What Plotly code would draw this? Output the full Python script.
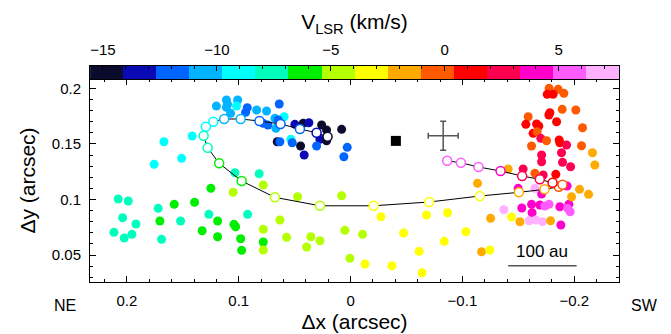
import plotly.graph_objects as go

# ---------------- colour scale (16 discrete velocity bands) ----------------
V_MIN, V_MAX = -15.57, 7.65
BAND_COLORS = ["#0b0b2e", "#0a0ab4", "#0064ff", "#00b4ff", "#00ffff", "#00ffbe",
               "#00ee00", "#b4ff00", "#ffff00", "#ffaa00", "#ff5a00", "#ff0000",
               "#ff0050", "#ff00cc", "#ff5cff", "#ffb0ff"]
band_v = [-14.84, -13.39, -11.94, -10.49, -9.04, -7.59, -6.14, -4.69,
          -3.23, -1.78, -0.33, 1.12, 2.57, 4.02, 5.47, 6.92]

n = len(BAND_COLORS)
CS = []
for i, c in enumerate(BAND_COLORS):
    CS.append([i / n, c])
    CS.append([(i + 1) / n, c])

# ---------------- observed maser spots ----------------
dx_obs = [0.111, 0.101, 0.120, 0.110, 0.102, 0.111, 0.0924, 0.084, 0.0939, 0.1073,
          0.0751, 0.0781, 0.0739, 0.0638, 0.0677, 0.0594, 0.0647, 0.0668, 0.0498, 0.0424,
          0.0373, 0.0259, 0.0215, 0.008, 0.0274, 0.0215, 0.0656, 0.0632, 0.0534, 0.0522,
          0.0447, 0.0304, 0.003, 0.0415, 0.006, 0.1669, 0.1416, 0.1756, 0.1511, 0.1034,
          0.0817, 0.1249, 0.105, 0.0781, 0.2078, 0.1988, 0.2038, 0.1919, 0.2116, 0.2024,
          0.1955, 0.172, 0.169, 0.1705, 0.1577, 0.152, 0.1395, 0.1267, 0.1189, 0.1327,
          0.1189, 0.1043, 0.1028, 0.0983, 0.0974, 0.0921, 0.0781, 0.0781, 0.0781, 0.0474,
          0.008, 0.0632, 0.0572, 0.0355, 0.0274, 0.0393, 0.0051, -0.0107, 0.0006, -0.0128,
          -0.0271, -0.0369, -0.0474, -0.0613, -0.064, -0.0679, -0.0867, -0.1031, -0.0837, -0.1135,
          -0.1252, -0.1171, -0.1245, -0.1439, -0.1371, -0.1514, -0.1531, -0.1498, -0.1618, -0.1623,
          -0.1692, -0.1737, -0.1775, -0.1597, -0.1657, -0.1716, -0.1788, -0.188, -0.1871, -0.1952,
          -0.194, -0.1963, -0.1976, -0.2047, -0.2128, -0.1936, -0.1722, -0.1835, -0.1648, -0.1708,
          -0.1648, -0.1775, -0.1856, -0.1758, -0.1811, -0.1907, -0.1588, -0.1567, -0.1782, -0.1773,
          -0.1892, -0.2014, -0.1842, -0.1663, -0.1683, -0.1632, -0.1668, -0.1701, -0.1752, -0.1865,
          -0.1871, -0.1931, -0.2074, -0.2065, -0.1618, -0.1708, -0.1886, -0.1708, -0.1895, -0.1967,
          -0.2163, -0.2184, -0.1409, -0.1543]
dy_obs = [0.1895, 0.1895, 0.184, 0.1856, 0.1841, 0.1829, 0.1825, 0.1805, 0.1784, 0.1775,
          0.1796, 0.1685, 0.167, 0.1859, 0.173, 0.1744, 0.1715, 0.164, 0.1676, 0.1685,
          0.169, 0.167, 0.1625, 0.1631, 0.1541, 0.1528, 0.1519, 0.1519, 0.1541, 0.151,
          0.1481, 0.1481, 0.1469, 0.140, 0.1384, 0.1519, 0.1571, 0.1316, 0.137, 0.124,
          0.1231, 0.110, 0.1064, 0.113, 0.1004, 0.0986, 0.0835, 0.0779, 0.0704, 0.0653,
          0.0686, 0.092, 0.0641, 0.0806, 0.0956, 0.0806, 0.0974, 0.0866, 0.0806, 0.0718,
          0.0664, 0.0776, 0.0754, 0.0646, 0.0542, 0.0866, 0.0731, 0.0617, 0.0545, 0.1024,
          0.1033, 0.0815, 0.0659, 0.0664, 0.0628, 0.0572, 0.0722, 0.0686, 0.047, 0.0419,
          0.0844, 0.0403, 0.0698, 0.0533, 0.034, 0.086, 0.088, 0.0709, 0.0623, 0.1145,
          0.083, 0.0529, 0.0545, 0.0842, 0.0907, 0.0799, 0.0923, 0.110, 0.0956, 0.088,
          0.095, 0.0941, 0.0956, 0.0808, 0.0815, 0.080, 0.0808, 0.077, 0.0934, 0.0956,
          0.092, 0.0889, 0.1024, 0.1091, 0.1046, 0.1121, 0.122, 0.1226, 0.1235, 0.1049,
          0.110, 0.200, 0.1991, 0.1946, 0.1946, 0.1955, 0.1744, 0.1676, 0.178, 0.176,
          0.1811, 0.1805, 0.1699, 0.1679, 0.1661, 0.1595, 0.1609, 0.155, 0.1528, 0.1535,
          0.151, 0.149, 0.1645, 0.1483, 0.1481, 0.140, 0.142, 0.1339, 0.1334, 0.1294,
          0.142, 0.131, 0.1274, 0.1274]
v_obs = [-10.5, -10.5, -10.5, -10.5, -9.0, -10.5, -11.9, -10.5, -11.9, -10.5,
         -10.5, -11.9, -11.9, -11.9, -10.5, -9.0, -11.9, -10.5, -13.4, -14.8,
         -13.4, -14.8, -14.8, -14.8, -13.4, -14.8, -14.8, -11.9, -9.0, -11.9,
         -14.8, -11.9, -11.9, -13.4, -11.9, -9.0, -9.0, -9.0, -9.0, -7.6,
         -7.6, -6.1, -4.7, -4.7, -7.6, -7.6, -7.6, -7.6, -7.6, -7.6,
         -7.6, -7.6, -7.6, -6.1, -6.1, -7.6, -6.1, -7.6, -6.1, -6.1,
         -6.1, -6.1, -6.1, -6.1, -6.1, -7.6, -4.7, -6.1, -4.7, -4.7,
         -4.7, -4.7, -4.7, -4.7, -4.7, -4.7, -4.7, -4.7, -4.7, -3.2,
         -3.2, -3.2, -3.2, -3.2, -3.2, -3.2, -3.2, -3.2, -3.2, -1.8,
         -1.8, -1.8, -3.2, -3.2, 6.9, -1.8, 4.0, 4.0, 4.0, 4.0,
         4.0, 5.5, 5.5, 6.9, 6.9, 6.9, -1.8, 4.0, 4.0, 4.0,
         5.5, 5.5, -1.8, -1.8, -1.8, 4.0, 2.6, 1.1, -0.3, 4.0,
         6.9, -0.3, -0.3, 1.1, 1.1, -0.3, -0.3, 1.1, 1.1, 1.1,
         -0.3, -0.3, 1.1, 1.1, 1.1, 1.1, -0.3, 2.6, -0.3, 1.1,
         1.1, 2.6, -0.3, -0.3, -0.3, 2.6, 2.6, 2.6, 2.6, 2.6,
         -1.8, -1.8, -1.8, 2.6]

# ---------------- model (open circles joined by a line) ----------------
dx_mod = [0.0206, 0.0304, 0.0453, 0.0626, 0.0815, 0.0983, 0.113, 0.1228, 0.1294, 0.1314,
          0.1278, 0.1175, 0.0974, 0.0677, 0.0274, -0.0206, -0.0703, -0.1156, -0.1505, -0.1734,
          -0.1862, -0.1895, -0.1806, -0.1692, -0.1534, -0.1341, -0.1144, -0.0986, -0.0864]
dy_mod = [0.1564, 0.160, 0.1634, 0.1679, 0.1706, 0.1724, 0.1724, 0.170, 0.1654, 0.1573,
          0.1465, 0.1325, 0.1166, 0.1019, 0.0943, 0.0943, 0.0977, 0.1031, 0.1064, 0.1091,
          0.1114, 0.1132, 0.115, 0.1181, 0.1211, 0.1256, 0.1292, 0.133, 0.1348]
v_mod = [-14.5, -13.2, -12.3, -11.7, -11.3, -10.7, -10.1, -9.5, -9.0, -8.2,
         -7.5, -6.6, -5.8, -5.0, -4.2, -3.6, -3.0, -2.6, -2.0, -1.4,
         -0.8, -0.4, 0.8, 2.0, 2.9, 3.8, 4.9, 5.6, 6.1]

# ---------------- other markers ----------------
star_x, star_y = [-0.0405], [0.1527]
err_x, err_y = [-0.0828], [0.1573]
err_dx, err_dy = [0.0134], [0.0131]
bar_x, bar_y = [-0.1409, -0.2021], [0.0403, 0.0403]
bar_label = "100 au"
bar_label_x, bar_label_y = -0.1715, 0.0530

FONT = "Liberation Sans"

fig = go.Figure()

fig.add_trace(go.Scatter(
    x=dx_obs, y=dy_obs, mode="markers",
    marker=dict(size=9, color=v_obs, colorscale=CS, cmin=V_MIN, cmax=V_MAX,
                showscale=False, line=dict(width=0)),
    showlegend=False, hoverinfo="skip"))

fig.add_trace(go.Scatter(
    x=dx_mod, y=dy_mod, mode="lines+markers",
    line=dict(color="black", width=1),
    marker=dict(size=9, color="white",
                line=dict(color=v_mod, colorscale=CS, cmin=V_MIN, cmax=V_MAX, width=1.5)),
    showlegend=False, hoverinfo="skip"))

fig.add_trace(go.Scatter(
    x=star_x, y=star_y, mode="markers",
    marker=dict(symbol="square", size=10, color="black"),
    showlegend=False, hoverinfo="skip"))

fig.add_trace(go.Scatter(
    x=err_x, y=err_y, mode="markers",
    marker=dict(size=1, color="rgba(0,0,0,0)"),
    error_x=dict(type="data", array=err_dx, color="#555555", thickness=1.5, width=3),
    error_y=dict(type="data", array=err_dy, color="#555555", thickness=1.5, width=3),
    showlegend=False, hoverinfo="skip"))

fig.add_trace(go.Scatter(
    x=bar_x, y=bar_y, mode="lines",
    line=dict(color="#555555", width=1.5),
    showlegend=False, hoverinfo="skip"))

# colour bar drawn as a heatmap strip on its own axes
fig.add_trace(go.Heatmap(
    x=band_v, y=[0.5], z=[band_v], colorscale=CS, zmin=V_MIN, zmax=V_MAX,
    showscale=False, xaxis="x2", yaxis="y2", hoverinfo="skip"))

fig.add_annotation(x=bar_label_x, y=bar_label_y, text=bar_label, showarrow=False,
                   xanchor="center", yanchor="middle",
                   font=dict(family=FONT, size=17, color="black"))
fig.add_annotation(x=-0.048, y=-0.111, xref="paper", yref="paper", text="NE",
                   showarrow=False, xanchor="center", yanchor="middle",
                   font=dict(family=FONT, size=16, color="black"))
fig.add_annotation(x=1.049, y=-0.111, xref="paper", yref="paper", text="SW",
                   showarrow=False, xanchor="center", yanchor="middle",
                   font=dict(family=FONT, size=16, color="black"))

MAIN_TOP = 203 / 216
axis_common = dict(showline=True, linecolor="black", linewidth=1, mirror="allticks",
                   ticks="inside", ticklen=6, tickcolor="black", showgrid=False,
                   zeroline=False, automargin=False,
                   tickfont=dict(family=FONT, size=15, color="black"))

fig.update_layout(
    width=671, height=334,
    margin=dict(l=90, r=52, t=66, b=52),
    paper_bgcolor="white", plot_bgcolor="white",
    xaxis=dict(domain=[0, 1], range=[0.2330, -0.2400], tick0=0, dtick=0.1,
               minor=dict(dtick=0.02, ticklen=3, ticks="inside", tickcolor="black"),
               title=dict(text="Δx (arcsec)", font=dict(family=FONT, size=21, color="black"),
                          standoff=6),
               ticklabelstandoff=5, anchor="y", **axis_common),
    yaxis=dict(domain=[0, MAIN_TOP], range=[0.0257, 0.2084], tick0=0, dtick=0.05,
               minor=dict(dtick=0.01, ticklen=3, ticks="inside", tickcolor="black"),
               title=dict(text="Δy (arcsec)", font=dict(family=FONT, size=21, color="black"),
                          standoff=10),
               ticklabelstandoff=5, anchor="x", **axis_common),
    xaxis2=dict(domain=[0, 1], range=[V_MIN, V_MAX], anchor="y2", side="top",
                tick0=0, dtick=5, showline=True, linecolor="black", mirror=True,
                ticks="inside", ticklen=5, tickcolor="black", automargin=False,
                minor=dict(dtick=1, ticklen=3, ticks="inside", tickcolor="black"),
                showgrid=False, zeroline=False,
                tickfont=dict(family=FONT, size=15, color="black"),
                title=dict(text="V<sub>LSR</sub> (km/s)",
                           font=dict(family=FONT, size=21, color="black"), standoff=5),
                ticklabelstandoff=4),
    yaxis2=dict(domain=[MAIN_TOP, 1], range=[0, 1], anchor="x2", showline=True,
                linecolor="black", mirror=True, showticklabels=False, ticks="",
                showgrid=False, zeroline=False, automargin=False),
)

fig.write_html("out.html")
